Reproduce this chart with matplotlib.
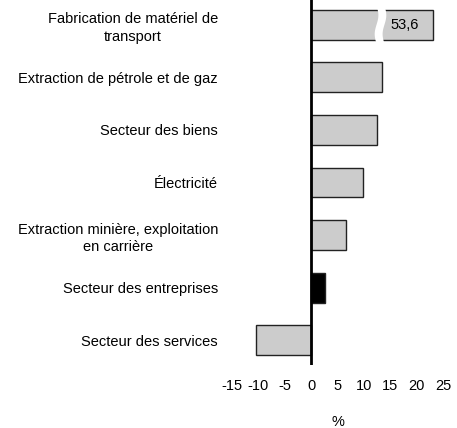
import matplotlib
matplotlib.use("Agg")
import matplotlib.pyplot as plt
from matplotlib.patches import Polygon
import numpy as np

plt.rcParams["font.family"] = ["Liberation Sans", "DejaVu Sans"]

categories = [
    "Fabrication de matériel de\ntransport",
    "Extraction de pétrole et de gaz",
    "Secteur des biens",
    "Électricité",
    "Extraction minière, exploitation\nen carrière",
    "Secteur des entreprises",
    "Secteur des services",
]
values = [53.6, 13.4, 12.5, 9.8, 6.7, 2.6, -10.4]
highlight = "Secteur des entreprises"
xticks = [-15, -10, -5, 0, 5, 10, 15, 20, 25]
axis_cap = 23.1  # the off-scale bar is cut here and broken

fs = 10.5

fig = plt.figure(figsize=(4.57, 4.28), dpi=100)
ax = fig.add_axes([232 / 457, 1 - 365 / 428, 211 / 457, 365 / 428])

ypos = np.arange(len(categories))[::-1]
shown = [min(v, axis_cap) for v in values]
colors = ["black" if c == highlight else "#cccccc" for c in categories]
ax.barh(ypos, shown, height=0.57, color=colors, edgecolor="#222222", linewidth=1, zorder=2)

# break mark on the truncated bar
y0 = ypos[0]
t = np.linspace(-0.36, 0.36, 40)
wave = 0.35 * np.sin(t / 0.36 * np.pi)
left = np.column_stack([12.4 + wave, y0 + t])
right = np.column_stack([13.9 + wave, y0 + t])[::-1]
ax.add_patch(Polygon(np.vstack([left, right]), closed=True, facecolor="white",
                     edgecolor="none", zorder=3))
ax.text(17.8, y0, f"{values[0]:.1f}".replace(".", ","), ha="center", va="center",
        fontsize=fs, zorder=4)

ax.axvline(0, color="black", linewidth=2, zorder=5)

ax.set_xlim(-15, 25)
ax.set_ylim(-0.47, len(categories) - 0.53)
ax.set_xticks(xticks)
ax.set_xticklabels([str(x) for x in xticks], fontsize=fs)
ax.set_yticks(ypos)
ax.set_yticklabels(categories, fontsize=fs, multialignment="center", linespacing=1.35)
ax.tick_params(axis="both", length=0)
ax.tick_params(axis="y", pad=10)
ax.tick_params(axis="x", pad=10)
for s in ax.spines.values():
    s.set_visible(False)
ax.set_xlabel("%", fontsize=fs, labelpad=16)

fig.savefig("out.png", dpi=100)
